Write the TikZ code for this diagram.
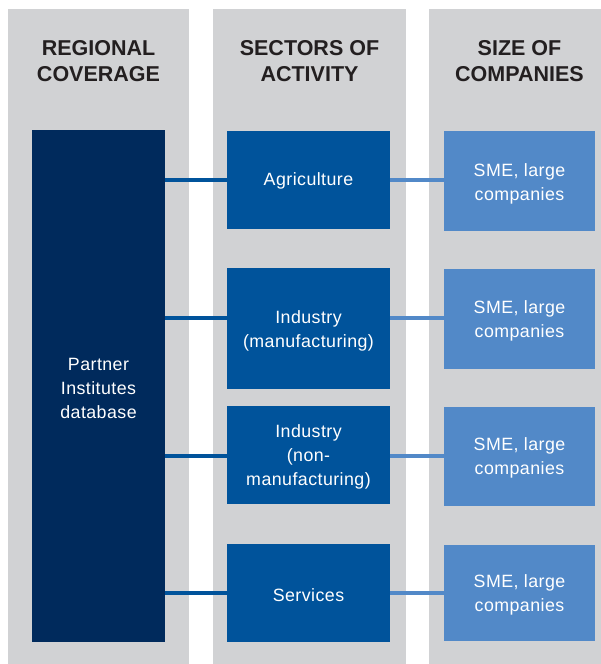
\documentclass[tikz,border=0pt]{standalone}
\usepackage{fontspec}
\setmainfont{Liberation Sans}
\newfontfamily\boxfont[LetterSpace=2.5]{Liberation Sans}
\definecolor{colgray}{HTML}{D1D2D4}
\definecolor{navy}{HTML}{002A5C}
\definecolor{midblue}{HTML}{00539B}
\definecolor{lightblue}{HTML}{5289C8}
\definecolor{headtxt}{HTML}{231F20}
\begin{document}
\begin{tikzpicture}[x=1pt,y=-1pt,
  colbg/.style={fill=colgray,draw=none},
  heading/.style={text=headtxt,font=\fontsize{21.5}{26}\selectfont\bfseries,align=center,inner sep=0pt},
  boxtxt/.style={text=white,font=\boxfont\fontsize{17.8}{24}\selectfont,align=center,inner sep=0pt,anchor=center},
  navybox/.style={fill=navy,draw=none,minimum width=133pt,minimum height=512pt,inner sep=0pt},
  sectorbox/.style={fill=midblue,draw=none,minimum width=163pt,inner sep=0pt},
  sizebox/.style={fill=lightblue,draw=none,minimum width=151pt,inner sep=0pt},
  leftlink/.style={draw=midblue,line width=4pt},
  rightlink/.style={draw=lightblue,line width=4pt}]
\useasboundingbox (0,0) rectangle (601,664);
\fill[white] (0,0) rectangle (601,664);
% columns
\path[colbg] (8,9) rectangle (189,664);
\path[colbg] (213,9) rectangle (406,664);
\path[colbg] (429,9) rectangle (601,664);
% headings
\node[heading] (h1) at (98.5,61) {REGIONAL\\COVERAGE};
\node[heading] (h2) at (309.5,61) {SECTORS OF\\ACTIVITY};
\node[heading] (h3) at (519.5,61) {SIZE OF\\COMPANIES};
% regional box
\node[navybox] (reg) at (98.5,386) {};
\node[boxtxt] (regt) at (98.5,388) {Partner\\Institutes\\database};
% sector boxes
\node[sectorbox,minimum height=98pt] (s1) at (308.5,180) {};
\node[boxtxt] at (308.5,181) {Agriculture};
\node[sectorbox,minimum height=121pt] (s2) at (308.5,328.5) {};
\node[boxtxt] at (308.5,331) {Industry\\(manufacturing)};
\node[sectorbox,minimum height=98pt] (s3) at (308.5,455) {};
\node[boxtxt] at (308.5,457) {Industry\\(non-\\manufacturing)};
\node[sectorbox,minimum height=98pt] (s4) at (308.5,593) {};
\node[boxtxt] at (308.5,595) {Services};
% size boxes
\node[sizebox,minimum height=100pt] (z1) at (519.5,181) {};
\node[boxtxt] at (519.5,184) {SME, large\\companies};
\node[sizebox,minimum height=100pt] (z2) at (519.5,319) {};
\node[boxtxt] at (519.5,321) {SME, large\\companies};
\node[sizebox,minimum height=99pt] (z3) at (519.5,456) {};
\node[boxtxt] at (519.5,458) {SME, large\\companies};
\node[sizebox,minimum height=96pt] (z4) at (519.5,593) {};
\node[boxtxt] at (519.5,595) {SME, large\\companies};
% connectors
\draw[leftlink] (reg.east |- 0,180) -- (s1.west |- 0,180);
\draw[leftlink] (reg.east |- 0,318) -- (s2.west |- 0,318);
\draw[leftlink] (reg.east |- 0,456) -- (s3.west |- 0,456);
\draw[leftlink] (reg.east |- 0,593) -- (s4.west |- 0,593);
\draw[rightlink] (s1.east |- 0,180) -- (z1.west |- 0,180);
\draw[rightlink] (s2.east |- 0,318) -- (z2.west |- 0,318);
\draw[rightlink] (s3.east |- 0,456) -- (z3.west |- 0,456);
\draw[rightlink] (s4.east |- 0,593) -- (z4.west |- 0,593);
\end{tikzpicture}
\end{document}
